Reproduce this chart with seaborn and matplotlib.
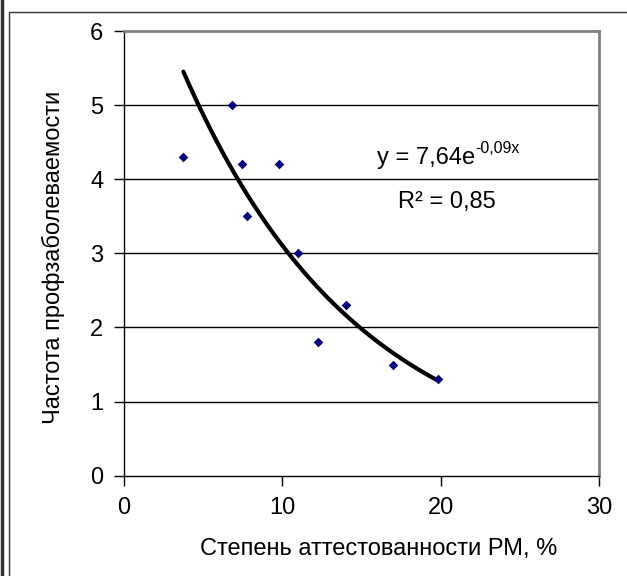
import numpy as np
import pandas as pd
import seaborn as sns
import matplotlib.pyplot as plt
from matplotlib.patches import Rectangle
from matplotlib.lines import Line2D

# data
attest = [3.75, 6.8, 7.47, 9.79, 7.77, 10.99, 14.0, 12.26, 17.0, 19.84]
freq = [4.3, 5.0, 4.2, 4.2, 3.5, 3.0, 2.3, 1.8, 1.5, 1.3]

# exponential trendline as printed on the chart
fit_a = 7.64
fit_b = -0.09
eq_text = "y = 7,64e"
eq_exp = "-0,09x"
r2_text = "R² = 0,85"

x_ticks = [0, 10, 20, 30]
y_ticks = [0, 1, 2, 3, 4, 5, 6]

df = pd.DataFrame({'x': attest, 'y': freq})
xs = np.linspace(min(attest), max(attest), 200)
trend = pd.DataFrame({'x': xs, 'y': fit_a * np.exp(fit_b * xs)})

sns.set_theme(style='white')
plt.rcParams['font.family'] = ['Liberation Sans', 'DejaVu Sans']
plt.rcParams['text.color'] = 'black'
plt.rcParams['axes.labelcolor'] = 'black'
plt.rcParams['xtick.color'] = 'black'
plt.rcParams['ytick.color'] = 'black'

fig = plt.figure(figsize=(6.27, 5.76), dpi=100)
ax = fig.add_axes([124 / 627, 1 - 475.7 / 576, 475 / 627, 444.7 / 576])

# outer chart border (only top-left part visible)
fig.patches.append(Rectangle((9 / 627, -0.1), 1.2, 1.1 - 12 / 576, transform=fig.transFigure,
                             fill=False, edgecolor='#333333', linewidth=1))
fig.lines.append(Line2D([1.5 / 627, 1.5 / 627], [0, 1], transform=fig.transFigure,
                        color='#333333', linewidth=2.5))

for yv in y_ticks[1:-1]:
    ax.axhline(yv, color='black', linewidth=1, zorder=1)

sns.lineplot(data=trend, x='x', y='y', ax=ax, color='black', linewidth=3, zorder=3)
sns.scatterplot(data=df, x='x', y='y', ax=ax, marker='D', s=24, color='#000080',
                edgecolor='#000080', linewidth=0, zorder=4)

ax.set_xlim(0, 30)
ax.set_ylim(0, 6)
ax.set_xticks(x_ticks)
ax.set_yticks(y_ticks)
ax.tick_params(axis='both', labelsize=17, length=7, width=1, direction='out',
               color='black', labelcolor='black', pad=8, bottom=True, left=True)

for side in ['top', 'right']:
    ax.spines[side].set_color('#808080')
    ax.spines[side].set_linewidth(2)
for side in ['left', 'bottom']:
    ax.spines[side].set_color('black')
    ax.spines[side].set_linewidth(1)

ax.set_xlabel('Степень аттестованности РМ, %', fontsize=17, color='black')
ax.set_ylabel('Частота профзаболеваемости', fontsize=17, color='black')
ax.xaxis.set_label_coords(0.535, -0.14)
ax.yaxis.set_label_coords(-0.125, 0.49)

t = ax.text(15.98, 4.28, eq_text, fontsize=17, ha='left', va='center', color='black')
ax.annotate(eq_exp, xy=(1, 0.62), xycoords=t, fontsize=11.5, ha='left', va='bottom',
            color='black')
ax.text(20.4, 3.69, r2_text, fontsize=17, ha='center', va='center', color='black')

fig.savefig('out.png', dpi=100)
